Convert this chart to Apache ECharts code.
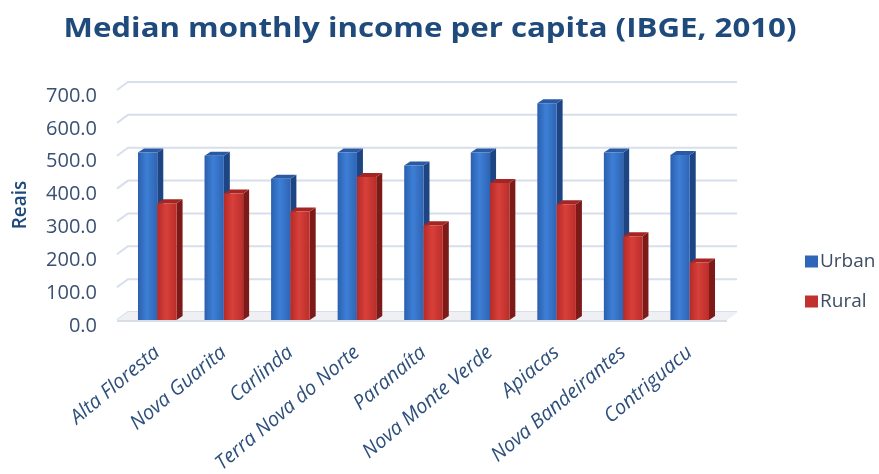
<!DOCTYPE html>
<html>
<head>
<meta charset="utf-8">
<script src="https://cdn.jsdelivr.net/npm/echarts@6/dist/echarts.min.js"></script>
<style>
  html, body { margin: 0; padding: 0; background: #ffffff; }
  #chart { width: 879px; height: 474px; }
</style>
</head>
<body>
<div id="chart"></div>
<script>
// Municipalities (categories)
const municipalities = [
  'Alta Floresta', 'Nova Guarita', 'Carlinda', 'Terra Nova do Norte', 'Paranaíta',
  'Nova Monte Verde', 'Apiacas', 'Nova Bandeirantes', 'Contriguacu'
];
// Median monthly income per capita, in Reais
const urbanIncome = [510, 500, 430, 510, 470, 510, 660, 510, 502];
const ruralIncome = [355, 385, 330, 435, 288, 417, 352, 255, 175];
// Value axis ticks
const yTicks = [0, 100, 200, 300, 400, 500, 600, 700];

const FONT = '"Open Sans", "DejaVu Sans", sans-serif';
const TITLE = 'Median monthly income per capita (IBGE, 2010)';
const DEPTH_X = 6;   // oblique depth of each column
const DEPTH_Y = -4;
const WALL_X = 11;   // depth of the back wall
const WALL_Y = -8;

const palette = {
  Urban: { front: ['#2b5fae', '#3d7fd6', '#2e64b4'], side: '#1d4583', top: '#2a5aa3' },
  Rural: { front: ['#b52a27', '#d8403a', '#ba2d2a'], side: '#7d1a18', top: '#a32624' }
};

function column(name, offsetSign) {
  const c = palette[name];
  return function (params, api) {
    const x = api.value(0);
    const v = api.value(1);
    const base = api.coord([x, 0]);
    const top = api.coord([x, v]);
    const bw = api.size([1, 0])[0] * 0.29;
    const x0 = offsetSign < 0 ? base[0] - bw : base[0];
    const x1 = x0 + bw;
    const yT = top[1], yB = base[1];
    return {
      type: 'group',
      children: [
        {
          type: 'polygon',
          shape: { points: [[x1, yT], [x1 + DEPTH_X, yT + DEPTH_Y], [x1 + DEPTH_X, yB + DEPTH_Y], [x1, yB]] },
          style: { fill: c.side }
        },
        {
          type: 'polygon',
          shape: { points: [[x0, yT], [x0 + DEPTH_X, yT + DEPTH_Y], [x1 + DEPTH_X, yT + DEPTH_Y], [x1, yT]] },
          style: { fill: c.top }
        },
        {
          type: 'rect',
          shape: { x: x0, y: yT, width: bw, height: yB - yT },
          style: {
            fill: new echarts.graphic.LinearGradient(0, 0, 1, 0, [
              { offset: 0, color: c.front[0] },
              { offset: 0.45, color: c.front[1] },
              { offset: 1, color: c.front[2] }
            ])
          }
        }
      ]
    };
  };
}

// Back-wall gridlines with the short diagonal on the side wall
function wallLine(params, api) {
  const v = api.value(0);
  const cs = params.coordSys;
  const y = api.coord([0, v])[1];
  const xl = cs.x - 7;
  const xr = cs.x + cs.width + 14;
  return {
    type: 'polyline',
    shape: { points: [[xl, y], [xl + WALL_X, y + WALL_Y], [xr, y + WALL_Y]] },
    style: { stroke: '#d8dfec', lineWidth: 2, fill: null }
  };
}

// Floor under the columns
function floor(params, api) {
  const cs = params.coordSys;
  const y = api.coord([0, 0])[1];
  const xl = cs.x - 7;
  const xr = cs.x + cs.width + 4;
  return {
    type: 'group',
    children: [
      {
        type: 'polygon',
        shape: { points: [[xl, y], [xl + WALL_X, y + WALL_Y], [xr + WALL_X, y + WALL_Y], [xr, y]] },
        style: { fill: '#eef0f4' }
      },
      {
        type: 'line',
        shape: { x1: xl, y1: y + 1, x2: xr, y2: y + 1 },
        style: { stroke: '#d9dee6', lineWidth: 2 }
      }
    ]
  };
}

const chart = echarts.init(document.getElementById('chart'), null, { renderer: 'canvas' });

chart.setOption({
  backgroundColor: '#ffffff',
  animation: false,
  graphic: [
    {
      type: 'text',
      x: 430,
      y: 30,
      scaleX: 1.2,
      style: {
        text: TITLE,
        align: 'center',
        verticalAlign: 'middle',
        fontFamily: FONT,
        fontWeight: 'bold',
        fontSize: 26,
        fill: '#1f4a7c'
      }
    }
  ],
  legend: {
    orient: 'vertical',
    left: 800,
    top: 247,
    itemWidth: 13,
    itemHeight: 12,
    itemGap: 21,
    icon: 'rect',
    data: ['Urban', 'Rural'],
    textStyle: { fontFamily: FONT, fontSize: 19, color: '#3d4d63', padding: [0, 0, 0, -3] }
  },
  grid: { left: 124, right: 156, top: 90, bottom: 154, containLabel: false, outerBoundsMode: 'none' },
  xAxis: {
    type: 'category',
    data: municipalities,
    axisLine: { show: false },
    axisTick: { show: false },
    axisLabel: {
      interval: 0,
      rotate: 40,
      margin: 30,
      fontFamily: FONT,
      fontStyle: 'italic',
      fontSize: 20,
      color: '#2c4f7c'
    }
  },
  yAxis: {
    type: 'value',
    min: 0,
    max: 700,
    interval: 100,
    name: 'Reais',
    nameLocation: 'middle',
    nameGap: 94,
    nameRotate: 90,
    nameTextStyle: { fontFamily: FONT, fontWeight: 600, fontSize: 19, color: '#1f4a7c' },
    axisLine: { show: false },
    axisTick: { show: false },
    splitLine: { show: false },
    axisLabel: {
      margin: 27,
      verticalAlign: 'top',
      lineHeight: 12,
      fontFamily: FONT,
      fontSize: 20,
      color: '#3a5072',
      formatter: v => v.toFixed(1)
    }
  },
  series: [
    {
      type: 'custom',
      name: 'wall',
      silent: true,
      data: yTicks.map(t => [t]),
      encode: { y: 0 },
      renderItem: wallLine,
      z: 1
    },
    {
      type: 'custom',
      name: 'floor',
      silent: true,
      data: [[0]],
      encode: { y: 0 },
      renderItem: floor,
      z: 1
    },
    {
      type: 'custom',
      name: 'Urban',
      itemStyle: { color: '#2e67b8' },
      data: urbanIncome.map((v, i) => [i, v]),
      encode: { x: 0, y: 1 },
      renderItem: column('Urban', -1),
      z: 2
    },
    {
      type: 'custom',
      name: 'Rural',
      itemStyle: { color: '#c0322e' },
      data: ruralIncome.map((v, i) => [i, v]),
      encode: { x: 0, y: 1 },
      renderItem: column('Rural', 1),
      z: 3
    }
  ]
});
</script>
</body>
</html>
